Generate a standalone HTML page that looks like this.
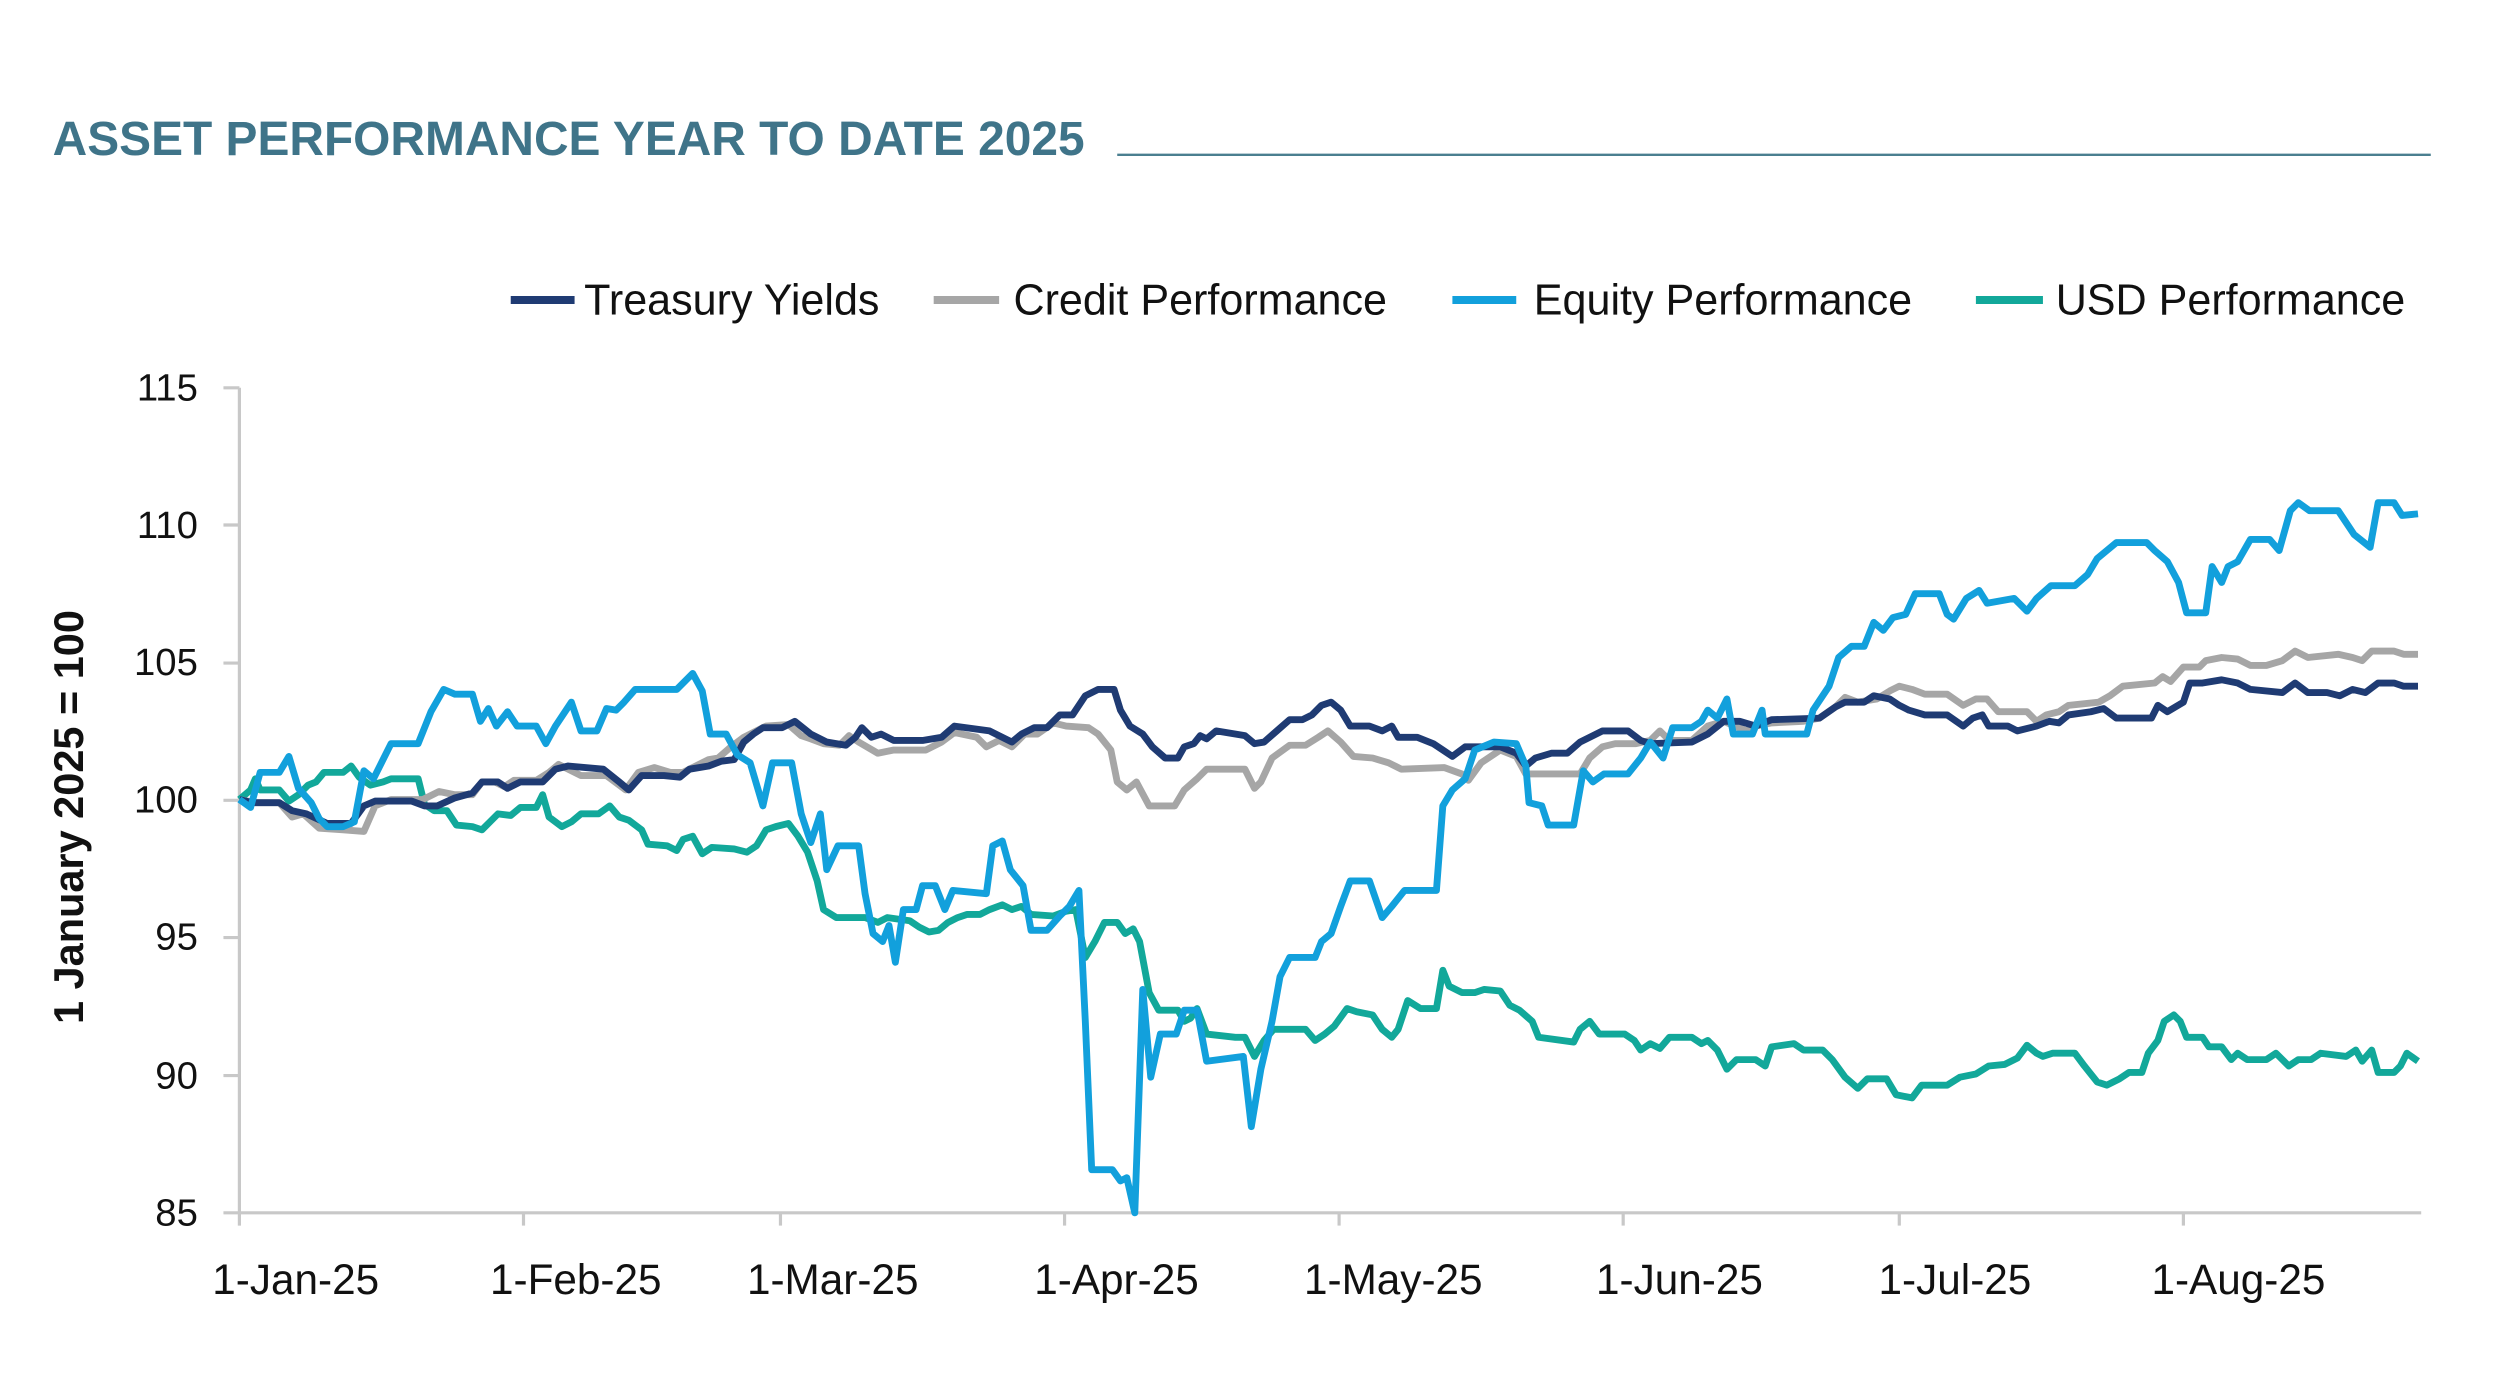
<!DOCTYPE html>
<html><head><meta charset="utf-8"><style>html,body{margin:0;padding:0;background:#fff}svg{display:block}</style></head>
<body>
<svg width="2501" height="1374" viewBox="0 0 1567 861" preserveAspectRatio="none" xmlns="http://www.w3.org/2000/svg" font-family="Liberation Sans, sans-serif">
<text x="33" y="97" font-size="30" font-weight="bold" fill="#3f7489">ASSET PERFORMANCE YEAR TO DATE 2025</text>
<line x1="700" y1="97" x2="1523" y2="97" stroke="#4a7f90" stroke-width="1.5"/>
<g font-size="27" fill="#111">
<line x1="320" y1="188" x2="360" y2="188" stroke="#1f3b73" stroke-width="5"/><text x="366" y="197">Treasury Yields</text>
<line x1="585" y1="188" x2="626" y2="188" stroke="#a6a6a6" stroke-width="5"/><text x="635" y="197">Credit Performance</text>
<line x1="910" y1="188" x2="950" y2="188" stroke="#12a0dc" stroke-width="5"/><text x="961" y="197">Equity Performance</text>
<line x1="1238" y1="188" x2="1280" y2="188" stroke="#12a89a" stroke-width="5"/><text x="1288" y="197">USD Performance</text>
</g>
<g stroke="#c8c8c8" stroke-width="2">
<line x1="150" y1="243" x2="150" y2="768"/><line x1="140" y1="760" x2="1517" y2="760"/>
<line x1="140" y1="243" x2="150" y2="243"/><line x1="140" y1="329" x2="150" y2="329"/><line x1="140" y1="415.5" x2="150" y2="415.5"/><line x1="140" y1="501.5" x2="150" y2="501.5"/><line x1="140" y1="587.5" x2="150" y2="587.5"/><line x1="140" y1="674" x2="150" y2="674"/>
<line x1="328" y1="760" x2="328" y2="768"/><line x1="489" y1="760" x2="489" y2="768"/><line x1="667" y1="760" x2="667" y2="768"/><line x1="839" y1="760" x2="839" y2="768"/><line x1="1017" y1="760" x2="1017" y2="768"/><line x1="1190" y1="760" x2="1190" y2="768"/><line x1="1368" y1="760" x2="1368" y2="768"/>
</g>
<g font-size="24" fill="#111" text-anchor="end">
<text x="124" y="251">115</text><text x="124" y="337">110</text><text x="124" y="423">105</text><text x="124" y="509">100</text><text x="124" y="595">95</text><text x="124" y="682">90</text><text x="124" y="768">85</text>
</g>
<g font-size="26.5" fill="#111">
<text x="133" y="811">1-Jan-25</text><text x="307" y="811">1-Feb-25</text><text x="468" y="811">1-Mar-25</text><text x="648" y="811">1-Apr-25</text><text x="817" y="811">1-May-25</text><text x="1000" y="811">1-Jun-25</text><text x="1177" y="811">1-Jul-25</text><text x="1348" y="811">1-Aug-25</text>
</g>
<text transform="translate(52,512) rotate(-90)" text-anchor="middle" font-size="26" font-weight="bold" fill="#111">1 January 2025 = 100</text>
<g fill="none" stroke-width="4.3" stroke-linejoin="round">
<polyline stroke="#12a89a" points="150,501 157,495 160,488 163,495 175,495 181,502 187,498 193,492 198,490 203,484 215,484 220,480 225,487 232,492 240,490 245,488 262,488 266,504 272,508 280,508 286,517 296,518 302,520 308,514 312,510 320,511 326,506 336,506 340,498 344,512 352,518 358,515 364,510 375,510 382,505 388,512 394,514 402,520 406,529 418,530 424,533 428,526 434,524 440,535 446,531 460,532 468,534 474,530 480,520 486,518 494,516 500,524 506,534 512,552 516,570 524,575 542,575 550,578 556,575 570,577 576,581 582,584 588,583 594,578 600,575 606,573 614,573 620,570 628,567 634,570 640,568 646,573 660,574 668,571 674,570 680,600 686,590 692,578 700,578 705,585 710,582 714,590 720,622 726,633 738,633 742,640 746,638 750,632 756,648 774,650 780,650 786,662 792,652 798,645 818,645 824,652 830,648 836,643 844,632 850,634 860,636 866,645 872,650 876,645 882,627 890,632 900,632 904,608 908,618 916,622 924,622 930,620 940,621 946,630 952,633 960,640 964,650 986,653 990,645 996,640 1002,648 1018,648 1024,652 1028,658 1034,654 1040,657 1046,650 1060,650 1066,654 1070,652 1076,658 1082,670 1088,664 1100,664 1106,668 1110,656 1124,654 1130,658 1142,658 1148,664 1156,675 1164,682 1170,676 1182,676 1188,686 1198,688 1204,680 1220,680 1228,675 1238,673 1246,668 1256,667 1264,663 1270,655 1276,660 1280,662 1286,660 1300,660 1306,668 1314,678 1320,680 1328,676 1334,672 1342,672 1346,660 1352,652 1356,640 1362,636 1366,640 1370,650 1380,650 1384,656 1392,656 1398,664 1402,660 1408,664 1420,664 1426,660 1434,668 1440,664 1448,664 1454,660 1470,662 1476,658 1480,665 1486,658 1490,672 1500,672 1504,668 1508,660 1515,665"/>
<polyline stroke="#a6a6a6" points="150,501 160,503 175,503 183,512 190,510 200,519 215,520 228,521 235,505 245,501 265,501 275,496 285,498 296,498 302,490 310,490 316,493 322,489 336,489 344,484 350,479 356,482 364,486 380,486 392,495 400,484 410,481 420,484 428,484 436,480 444,476 450,475 458,468 466,462 472,459 480,455 494,454 502,461 508,463 516,466 526,467 532,461 538,465 550,472 560,470 580,470 590,465 598,459 612,462 618,468 626,464 634,468 642,460 650,460 660,453 668,455 682,456 688,460 696,470 700,490 706,495 712,490 720,505 736,505 742,495 750,488 756,482 780,482 786,494 790,490 797,475 808,467 818,467 826,462 832,458 840,465 848,474 860,475 870,478 878,482 905,481 916,485 920,489 928,478 940,470 950,474 956,485 990,485 996,475 1004,468 1012,466 1025,466 1034,464 1040,458 1046,464 1060,464 1070,455 1080,452 1094,458 1100,455 1110,453 1130,452 1140,450 1150,443 1156,437 1164,440 1176,438 1184,433 1190,430 1198,432 1206,435 1220,435 1230,442 1238,438 1245,438 1252,446 1270,446 1276,452 1282,448 1290,446 1296,442 1315,440 1322,436 1330,430 1350,428 1355,424 1360,427 1368,418 1378,418 1382,414 1392,412 1402,413 1410,417 1420,417 1430,414 1438,408 1446,412 1465,410 1474,412 1480,414 1486,408 1500,408 1506,410 1515,410"/>
<polyline stroke="#1f3b73" points="150,501 158,503 175,503 183,508 192,510 205,516 220,516 228,505 235,502 258,502 266,505 274,505 285,500 296,497 302,490 312,490 318,494 326,490 340,490 348,482 356,480 378,482 388,490 394,495 402,486 416,486 426,487 432,482 444,480 452,477 460,476 466,465 472,460 478,456 490,456 498,452 508,460 518,465 530,467 536,462 540,456 546,462 552,460 560,464 578,464 590,462 598,455 620,458 628,462 634,465 640,460 648,456 656,456 664,448 672,448 680,436 688,432 698,432 702,445 708,455 716,460 722,468 730,475 738,475 742,468 748,466 752,461 756,463 762,458 780,461 786,466 792,465 800,458 808,451 816,451 822,448 828,442 834,440 840,445 846,455 858,455 866,458 872,455 876,462 888,462 898,466 904,470 910,474 918,468 940,468 950,472 956,480 962,475 972,472 982,472 990,465 996,462 1004,458 1020,458 1028,464 1034,466 1060,465 1070,460 1080,452 1090,452 1100,455 1110,451 1140,450 1150,443 1156,440 1168,440 1174,436 1184,438 1190,442 1196,445 1206,448 1220,448 1230,455 1236,450 1242,448 1246,455 1258,455 1264,458 1276,455 1284,452 1290,453 1296,448 1310,446 1318,444 1326,450 1348,450 1352,442 1358,446 1368,440 1372,428 1380,428 1392,426 1402,428 1410,432 1430,434 1438,428 1446,434 1458,434 1466,436 1474,432 1482,434 1490,428 1500,428 1506,430 1515,430"/>
<polyline stroke="#12a0dc" points="150,501 157,506 163,484 175,484 181,474 187,494 195,503 200,513 205,518 215,518 222,515 228,483 234,488 245,466 262,466 270,446 278,432 285,435 296,435 301,452 306,444 311,455 318,446 324,455 336,455 342,466 348,455 358,440 364,458 374,458 380,444 386,445 391,440 398,432 424,432 434,422 440,433 445,460 455,460 462,473 470,478 478,505 484,478 496,478 502,510 508,528 514,510 518,545 525,530 538,530 542,560 547,585 553,590 557,580 561,603 566,570 574,570 578,555 586,555 592,570 597,558 618,560 622,530 628,527 633,545 641,555 646,583 656,583 664,574 670,568 676,558 680,640 684,733 697,733 702,740 706,738 711,760 716,620 721,675 727,648 737,648 742,633 750,633 756,665 779,662 784,706 790,670 797,640 802,612 808,600 824,600 828,590 834,585 840,568 846,552 858,552 866,575 872,568 880,558 900,558 904,505 910,495 918,488 924,470 936,465 950,466 956,480 958,503 966,505 970,517 986,517 992,483 998,490 1005,485 1020,485 1028,475 1034,465 1042,475 1048,456 1060,456 1066,452 1070,445 1076,450 1082,438 1086,460 1098,460 1104,445 1106,460 1132,460 1136,445 1146,430 1152,412 1160,405 1168,405 1174,390 1180,395 1186,387 1194,385 1200,372 1215,372 1220,385 1224,388 1232,375 1240,370 1245,378 1262,375 1270,383 1276,375 1285,367 1300,367 1308,360 1314,350 1326,340 1345,340 1350,345 1358,352 1365,365 1370,384 1382,384 1386,355 1392,365 1396,355 1402,352 1410,338 1422,338 1428,345 1435,320 1440,315 1447,320 1465,320 1475,335 1485,343 1490,315 1500,315 1505,323 1515,322"/>
</g>
</svg>
</body></html>
